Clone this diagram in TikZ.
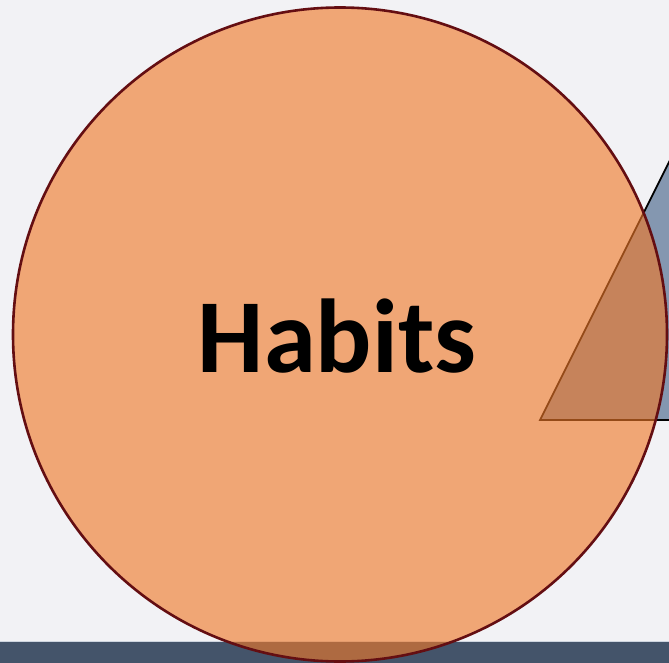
\documentclass[tikz,border=0pt]{standalone}
\usepackage{fontspec}
\setmainfont{Carlito}
\definecolor{slidebg}{RGB}{242,242,245}
\definecolor{habitorange}{RGB}{240,120,40}
\definecolor{habitrim}{RGB}{100,14,18}
\definecolor{trigray}{RGB}{132,151,176}
\definecolor{barblue}{RGB}{68,84,106}
\begin{document}
\begin{tikzpicture}[x=1pt, y=-1pt]
    \fill[slidebg] (0,0) rectangle (669,663);
    \useasboundingbox (0,0) rectangle (669,663);
    \clip (0,0) rectangle (669,663);

    \coordinate (t1) at (540, 420);
    \coordinate (t2) at (760, 420);
    \coordinate (t3) at (720, 60);
    \draw[fill=trigray, draw=black, line width=1.8pt] (t1)--(t3)--(t2)--cycle;

    \fill[barblue] (0,641) rectangle (669,663);
    \draw[trigray!40, line width=0.6pt] (0,641)--(669,641);

    \coordinate (c) at (340, 334.5);
    \filldraw[fill=habitorange, fill opacity=0.62, draw=habitrim, line width=2.6pt] (c) circle (327);
    \node[font=\bfseries\fontsize{105}{110}\selectfont] (habits) at (337, 336) {Habits};
\end{tikzpicture}
\end{document}
